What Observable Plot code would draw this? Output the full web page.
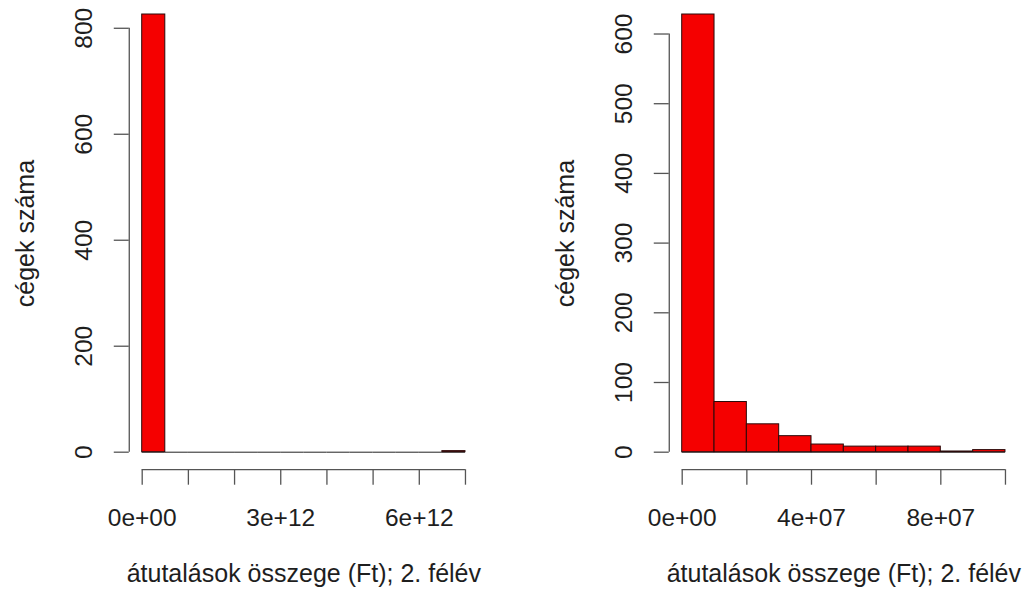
<!DOCTYPE html>
<html>
<head>
<meta charset="utf-8">
<script src="https://cdn.jsdelivr.net/npm/d3@7"></script>
<script src="https://cdn.jsdelivr.net/npm/@observablehq/plot@0.6"></script>
<style>
  html, body { margin: 0; padding: 0; background: #fff; }
  #wrap { position: relative; width: 1029px; height: 593px; overflow: hidden; background: #fff; }
  .panel { position: absolute; top: 0; }
  .panel svg { overflow: visible; }
</style>
</head>
<body>
<div id="wrap">
  <div id="left" class="panel" style="left:0px;width:514px"></div>
  <div id="right" class="panel" style="left:514px;width:515px"></div>
</div>
<script>
// ---- data ----
const yTitle = "cégek száma";
const xTitle = "átutalások összege (Ft); 2. félév";

// Left histogram: all firms
const leftBreaks = [0, 0.5e12, 1e12, 1.5e12, 2e12, 2.5e12, 3e12, 3.5e12, 4e12, 4.5e12, 5e12, 5.5e12, 6e12, 6.5e12, 7e12];
const leftCounts = [826, 0, 0, 0, 0, 0, 0, 0, 0, 0, 0, 0, 0, 2];
const leftXTicks = [0, 1e12, 2e12, 3e12, 4e12, 5e12, 6e12, 7e12];
const leftXLabelValues = [0, 3e12, 6e12];
const leftXLabels = ["0e+00", "3e+12", "6e+12"];
const leftYTicks = [0, 200, 400, 600, 800];

// Right histogram: firms below 1e8 Ft
const rightBreaks = [0, 1e7, 2e7, 3e7, 4e7, 5e7, 6e7, 7e7, 8e7, 9e7, 1e8];
const rightCounts = [628, 72, 40, 23, 11, 8, 8, 8, 1, 3];
const rightXTicks = [0, 2e7, 4e7, 6e7, 8e7, 1e8];
const rightXLabelValues = [0, 4e7, 8e7];
const rightXLabels = ["0e+00", "4e+07", "8e+07"];
const rightYTicks = [0, 100, 200, 300, 400, 500, 600];

// ---- drawing ----
const FONT = "'Liberation Sans', Arial, Helvetica, sans-serif";
const INK = "#1e1e1e";
const AXIS = "#555";

function histogram({breaks, counts, xTicks, xLabelValues, xLabels, yTicks, width, marginLeft, marginRight}) {
  const bins = counts.map((c, i) => ({x1: breaks[i], x2: breaks[i + 1], count: c}));
  const xMin = breaks[0], xMax = breaks[breaks.length - 1];
  const yMax = d3.max(counts);
  // R-style 4% axis expansion
  const xDom = [xMin - 0.04 * (xMax - xMin), xMax + 0.04 * (xMax - xMin)];
  const yDom = [-0.04 * yMax, yMax];
  const labelOf = new Map(xLabelValues.map((v, i) => [v, xLabels[i]]));
  return Plot.plot({
    width, height: 593,
    marginLeft, marginRight, marginTop: 14, marginBottom: 123.8,
    style: {fontFamily: FONT, fontSize: "24.5px", color: INK, background: "transparent"},
    x: {domain: xDom, axis: null},
    y: {domain: yDom, axis: null},
    marks: [
      // zero-height bins show as a baseline segment
      Plot.ruleY(bins, {y: 0, x1: "x1", x2: "x2", stroke: "#222", strokeWidth: 1}),
      Plot.rectY(bins.filter(d => d.count > 0), {x1: "x1", x2: "x2", y: "count", fill: "#f50000", stroke: "#2a0a0a", strokeWidth: 1}),
      // y axis line (from first to last tick, like R)
      Plot.ruleX([xDom[0]], {y1: yTicks[0], y2: yTicks[yTicks.length - 1], stroke: AXIS, strokeWidth: 1.3}),
      Plot.axisY({ticks: yTicks, tickSize: 15, tickPadding: 21.8, tickRotate: -90, tickFormat: d => String(d), stroke: AXIS, strokeWidth: 1.3, label: null, fill: INK}),
      // x axis line at bottom of plot region
      Plot.ruleY([yDom[0]], {x1: xTicks[0], x2: xTicks[xTicks.length - 1], stroke: AXIS, strokeWidth: 1.3}),
      Plot.axisX({ticks: xTicks, tickSize: 15.5, tickPadding: 23.7, tickFormat: d => labelOf.get(d) ?? "", stroke: AXIS, strokeWidth: 1.3, label: null, fill: INK}),
      // axis titles
      Plot.text([yTitle], {frameAnchor: "left", textAnchor: "middle", lineAnchor: "middle", rotate: -90, dx: -103.5, dy: -8.5, fontSize: 25, fill: INK}),
      Plot.text([xTitle], {frameAnchor: "bottom", textAnchor: "middle", lineAnchor: "middle", dy: 104, fontSize: 25, fill: INK})
    ]
  });
}

document.getElementById("left").append(histogram({
  breaks: leftBreaks, counts: leftCounts, xTicks: leftXTicks,
  xLabelValues: leftXLabelValues, xLabels: leftXLabels, yTicks: leftYTicks,
  width: 514, marginLeft: 128.77, marginRight: 36.1
}));
document.getElementById("right").append(histogram({
  breaks: rightBreaks, counts: rightCounts, xTicks: rightXTicks,
  xLabelValues: rightXLabelValues, xLabels: rightXLabels, yTicks: rightYTicks,
  width: 515, marginLeft: 154.77, marginRight: 11.1
}));
</script>
</body>
</html>
